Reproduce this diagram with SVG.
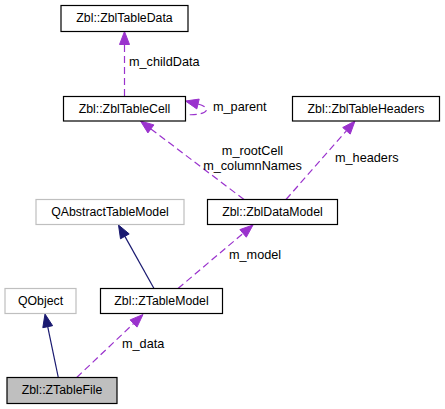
<svg xmlns="http://www.w3.org/2000/svg" width="445" height="409" viewBox="0 0 445 409">
<style>
.node rect{fill:#ffffff;stroke:#000000;stroke-width:1.2}
.node.ext rect{stroke:#bfbfbf}
.node.cur rect{fill:#bfbfbf}
.node text{font-family:"Liberation Sans",Arial,sans-serif;font-size:12.3px;text-anchor:middle;fill:#000}
.edge{fill:none;stroke:#9a32cd;stroke-width:1.2;stroke-dasharray:7,4}
.inh{fill:none;stroke:#191970;stroke-width:1.2}
.ah{fill:#9a32cd;stroke:#9a32cd}
.ahn{fill:#191970;stroke:#191970}
.lbl{font-family:"Liberation Sans",Arial,sans-serif;font-size:12.7px;fill:#000}
</style>
<rect width="445" height="409" fill="#ffffff"/>
<g id="connectors">
  <!-- m_childData -->
  <line class="edge" x1="124.5" y1="96" x2="124.5" y2="44.5"/>
  <polygon class="ah" points="124.5,31.5 119.5,44.5 129.5,44.5"/>
  <text class="lbl" x="129" y="66">m_childData</text>
  <!-- m_parent -->
  <path class="edge" d="M198,104 C206,106 209,110 204,112.5 C199,115 190,115 185.5,114.5"/>
  <polygon class="ah" points="185.5,101 196.8,108.9 199.2,99.1"/>
  <text class="lbl" x="213" y="111">m_parent</text>
  <!-- m_rootCell / m_columnNames -->
  <line class="edge" x1="244" y1="199.5" x2="150.9" y2="128.9"/>
  <polygon class="ah" points="140.5,121 147.9,132.9 153.9,124.9"/>
  <text class="lbl" x="252.5" y="155" text-anchor="middle">m_rootCell</text>
  <text class="lbl" x="252.5" y="170" text-anchor="middle">m_columnNames</text>
  <!-- m_headers -->
  <line class="edge" x1="286" y1="199.5" x2="346.4" y2="130.8"/>
  <polygon class="ah" points="355,121 350.2,134.1 342.7,127.5"/>
  <text class="lbl" x="335" y="162">m_headers</text>
  <!-- m_model -->
  <line class="edge" x1="178" y1="288.5" x2="243.1" y2="233.4"/>
  <polygon class="ah" points="253,225 246.3,237.2 239.9,229.6"/>
  <text class="lbl" x="229" y="259">m_model</text>
  <!-- inheritance QAbstractTableModel -->
  <line class="inh" x1="154" y1="288.5" x2="124.9" y2="236.4"/>
  <polygon class="ahn" points="118.5,225 120.5,238.8 129.2,233.9"/>
  <!-- inheritance QObject -->
  <line class="inh" x1="58.3" y1="377.5" x2="47.7" y2="326.7"/>
  <polygon class="ahn" points="45,314 42.8,327.7 52.6,325.7"/>
  <!-- m_data -->
  <line class="edge" x1="76.7" y1="377.5" x2="133.6" y2="323.5"/>
  <polygon class="ah" points="143,314.5 137,327.1 130.1,319.9"/>
  <text class="lbl" x="122" y="348">m_data</text>
</g>
<g id="ZblTableData" class="node"><rect x="61" y="5.5" width="127" height="26"/><text x="124.5" y="22">Zbl::ZblTableData</text></g>
<g id="ZblTableCell" class="node"><rect x="63.5" y="96.5" width="122" height="24.5"/><text x="124.5" y="112.5">Zbl::ZblTableCell</text></g>
<g id="ZblTableHeaders" class="node"><rect x="292.5" y="96.5" width="147" height="24.5"/><text x="366" y="112.5">Zbl::ZblTableHeaders</text></g>
<g id="QAbstractTableModel" class="node ext"><rect x="36" y="199.5" width="148" height="25"/><text x="110" y="215.5">QAbstractTableModel</text></g>
<g id="ZblDataModel" class="node"><rect x="207.5" y="199.5" width="130" height="25"/><text x="272.5" y="215.5">Zbl::ZblDataModel</text></g>
<g id="QObject" class="node ext"><rect x="5" y="288.5" width="71" height="25"/><text x="40.5" y="305">QObject</text></g>
<g id="ZTableModel" class="node"><rect x="100.5" y="288.5" width="122" height="25"/><text x="161.5" y="305">Zbl::ZTableModel</text></g>
<g id="ZTableFile" class="node cur"><rect x="7" y="377.5" width="110" height="26"/><text x="62" y="394">Zbl::ZTableFile</text></g>
</svg>
